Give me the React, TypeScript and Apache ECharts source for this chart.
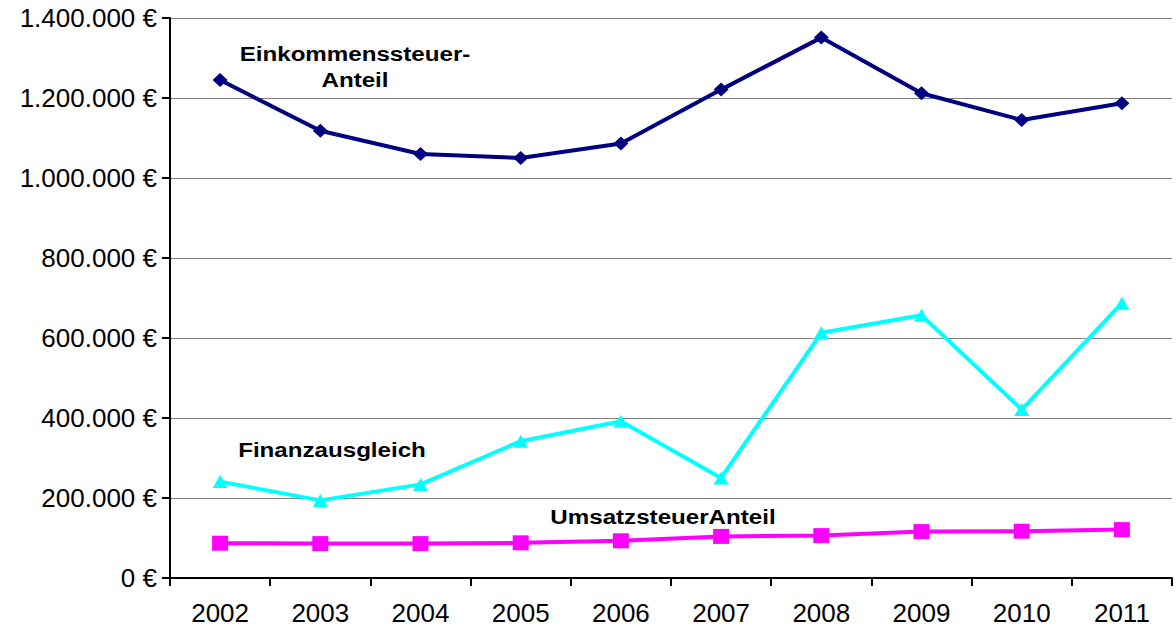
import React, { useEffect, useRef } from "react";
import * as echarts from "echarts";

const years = ["2002", "2003", "2004", "2005", "2006", "2007", "2008", "2009", "2010", "2011"];
const einkommensteuer = [1245000, 1118000, 1060000, 1050000, 1086000, 1221000, 1351000, 1212000, 1145000, 1187000];
const finanzausgleich = [241000, 194000, 234000, 342000, 392000, 250000, 613000, 657000, 421000, 687000];
const umsatzsteuer = [87000, 86000, 86000, 88000, 93000, 104000, 106000, 116000, 117000, 121000];

const seriesNames = ["Einkommenssteuer-\nAnteil", "Finanzausgleich", "UmsatzsteuerAnteil"];

const FONT = "'Liberation Sans', Arial, sans-serif";

function fmt(v: number): string {
  return String(v).replace(/\B(?=(\d{3})+(?!\d))/g, ".") + " €";
}

export default function App() {
  const ref = useRef<HTMLDivElement>(null);
  useEffect(() => {
    document.body.style.margin = "0";
    if (!ref.current) return;
    const chart = echarts.init(ref.current, null, { renderer: "svg" });
    const labelStyle = (x: number, y: number, text: string) => ({
      type: "text",
      x,
      y,
      scaleX: 1.15,
      silent: true,
      style: {
        text,
        fill: "#000",
        font: `bold 21px ${FONT}`,
        textAlign: "center",
        textVerticalAlign: "middle",
        lineHeight: 26,
      },
    });
    chart.setOption({
      animation: false,
      backgroundColor: "#fff",
      textStyle: { fontFamily: FONT },
      grid: { left: 170, right: 4, top: 18, bottom: 49, containLabel: false },
      xAxis: {
        type: "category",
        data: years,
        boundaryGap: true,
        axisLine: { show: true, lineStyle: { color: "#000", width: 2 } },
        axisTick: { show: true, length: 8, lineStyle: { color: "#000", width: 2 } },
        axisLabel: { color: "#000", fontSize: 26, fontFamily: FONT, margin: 22 },
        splitLine: { show: false },
      },
      yAxis: {
        type: "value",
        min: 0,
        max: 1400000,
        interval: 200000,
        axisLine: { show: true, lineStyle: { color: "#000", width: 2 } },
        axisTick: { show: true, length: 8, lineStyle: { color: "#000", width: 2 } },
        axisLabel: { color: "#000", fontSize: 26, fontFamily: FONT, margin: 13, formatter: (v: number) => fmt(v) },
        splitLine: { show: true, lineStyle: { color: "#808080", width: 1 } },
      },
      series: [
        {
          name: seriesNames[0],
          type: "line",
          data: einkommensteuer,
          symbol: "diamond",
          symbolSize: [15, 14],
          itemStyle: { color: "#000080" },
          lineStyle: { color: "#000080", width: 4 },
        },
        {
          name: seriesNames[1],
          type: "line",
          data: finanzausgleich,
          symbol: "triangle",
          symbolSize: [15, 13],
          itemStyle: { color: "#00FFFF" },
          lineStyle: { color: "#00FFFF", width: 4 },
        },
        {
          name: seriesNames[2],
          type: "line",
          data: umsatzsteuer,
          symbol: "rect",
          symbolSize: [16, 15],
          itemStyle: { color: "#FF00FF" },
          lineStyle: { color: "#FF00FF", width: 4 },
        },
      ],
      graphic: [
        labelStyle(355, 67, seriesNames[0]),
        labelStyle(332, 450, seriesNames[1]),
        labelStyle(663, 517, seriesNames[2]),
      ],
    });
    return () => chart.dispose();
  }, []);
  return <div ref={ref} style={{ width: 1176, height: 627 }} />;
}
